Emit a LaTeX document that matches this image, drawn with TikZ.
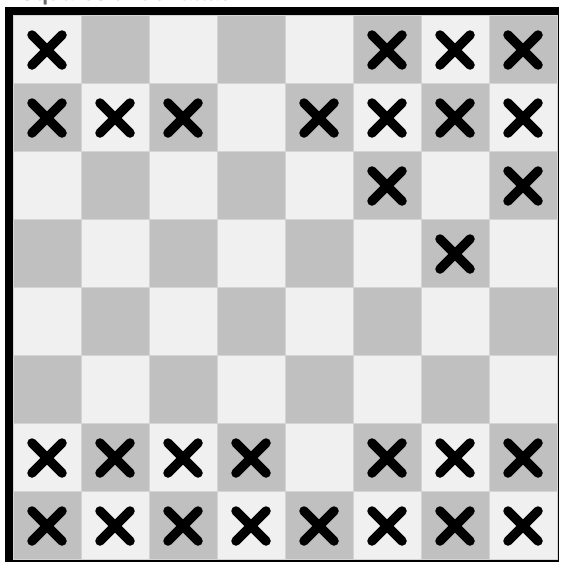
\documentclass[tikz,border=0pt]{standalone}
\usepackage{fontspec}
\setmainfont{Liberation Sans}
\usetikzlibrary{calc}
\definecolor{lightsq}{HTML}{F0F0F0}
\definecolor{darksq}{HTML}{C0C0C0}
\definecolor{gridln}{HTML}{D4D4D4}
\tikzset{
  sqlight/.style={fill=lightsq, draw=gridln, line width=0.8pt},
  sqdark/.style={fill=darksq, draw=gridln, line width=0.8pt},
  xmark/.style={line width=9.5pt, line cap=round, black}
}
\begin{document}
\begin{tikzpicture}[x=1pt,y=-1pt]
\useasboundingbox (0,0) rectangle (561,562);
\begin{scope}
\clip (0,0) rectangle (561,562);
\node[anchor=base west, inner sep=0pt, font=\bfseries\fontsize{22}{24}\selectfont, text=black!60] (title) at (20,0) {Squares under attack};
\end{scope}
\fill[black] (5,7) rectangle (559,562);
\foreach \r in {0,...,7}{
  \foreach \c in {0,...,7}{
    \pgfmathtruncatemacro{\p}{mod(\r+\c,2)}
    \ifnum\p=0
      \path[sqlight] (13+68*\c,15+68*\r) rectangle ++(68,68);
    \else
      \path[sqdark] (13+68*\c,15+68*\r) rectangle ++(68,68);
    \fi
  }
}
\foreach \r/\c in {0/0,0/5,0/6,0/7,
                   1/0,1/1,1/2,1/4,1/5,1/6,1/7,
                   2/5,2/7,
                   3/6,
                   6/0,6/1,6/2,6/3,6/5,6/6,6/7,
                   7/0,7/1,7/2,7/3,7/4,7/5,7/6,7/7}{
  \coordinate (m\r\c) at (47+68*\c,50+68*\r);
  \draw[xmark] ($(m\r\c)+(-15,-15)$) -- ($(m\r\c)+(15,15)$);
  \draw[xmark] ($(m\r\c)+(-15,15)$) -- ($(m\r\c)+(15,-15)$);
}
\end{tikzpicture}
\end{document}
